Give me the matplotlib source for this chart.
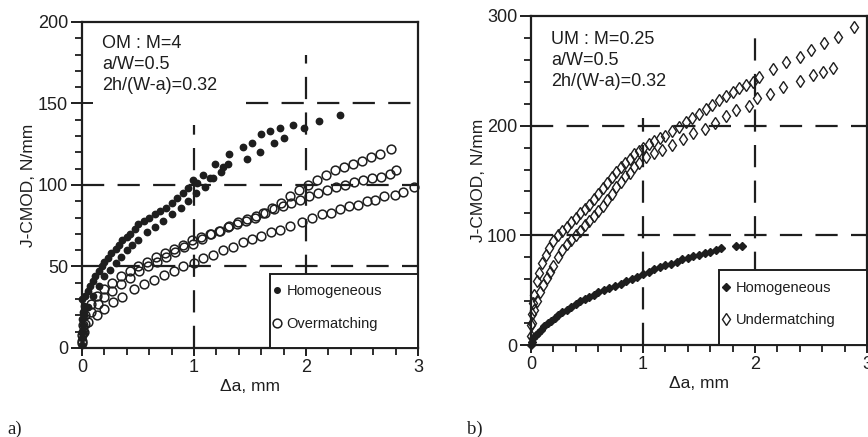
import matplotlib
matplotlib.use("Agg")
import matplotlib.pyplot as plt
import numpy as np
from matplotlib.lines import Line2D
from matplotlib.patches import Rectangle

plt.rcParams["font.family"] = ["Liberation Sans", "DejaVu Sans"]

INK = "#1e1e1e"

# ---- a) overmatching weld, M = 4 ----
hom_a1_x = [0.0, 0.0, 0.01, 0.01, 0.0, 0.01, 0.02, 0.0, 0.03, 0.05,
            0.07, 0.1, 0.12, 0.15, 0.18, 0.2, 0.23, 0.26, 0.3, 0.33,
            0.36, 0.4, 0.43, 0.47, 0.5, 0.55, 0.6, 0.65, 0.7, 0.75,
            0.8, 0.85, 0.9, 0.95, 0.99, 1.03, 1.08, 1.14, 1.19, 1.26,
            1.31, 1.44, 1.52, 1.6, 1.68, 1.77, 1.88, 2.12, 2.3]
hom_a1_y = [2, 6, 10, 14, 18, 22, 26, 30, 32, 35,
            38, 41, 44, 47, 50, 53, 55, 58, 61, 63,
            66, 68, 70, 73, 76, 78, 80, 82, 84, 86,
            89, 92, 95, 98, 103, 101, 106, 104, 113, 111,
            119, 123, 126, 131, 133, 135, 137, 139, 143]
hom_a2_x = [0.02, 0.05, 0.1, 0.15, 0.2, 0.25, 0.3, 0.35, 0.4, 0.45,
            0.5, 0.58, 0.65, 0.72, 0.8, 0.88, 0.95, 1.02, 1.1, 1.17,
            1.24, 1.3, 1.47, 1.59, 1.71, 1.8, 1.98]
hom_a2_y = [20, 25, 32, 38, 44, 48, 52, 56, 60, 63,
            66, 71, 74, 78, 82, 86, 90, 95, 99, 104,
            108, 113, 116, 120, 126, 129, 135]

om1_x = [0.0, 0.01, 0.03, 0.08, 0.13, 0.2, 0.27, 0.35, 0.43, 0.5,
         0.58, 0.66, 0.74, 0.82, 0.9, 0.98, 1.06, 1.14, 1.22, 1.3,
         1.38, 1.46, 1.54, 1.62, 1.7, 1.78, 1.86, 1.94, 2.02, 2.1,
         2.18, 2.26, 2.34, 2.42, 2.5, 2.58, 2.66, 2.76]
om1_y = [8, 14, 20, 27, 32, 36, 40, 44, 47, 50,
         53, 56, 58, 61, 63, 66, 68, 70, 72, 74,
         76, 78, 80, 83, 86, 89, 93, 97, 100, 103,
         106, 109, 111, 113, 115, 117, 119, 122]
om2_x = [0.0, 0.01, 0.03, 0.08, 0.14, 0.2, 0.27, 0.35, 0.43, 0.51,
         0.59, 0.67, 0.75, 0.83, 0.91, 0.99, 1.07, 1.15, 1.23, 1.31,
         1.39, 1.47, 1.55, 1.63, 1.71, 1.79, 1.87, 1.95, 2.03, 2.11,
         2.19, 2.27, 2.35, 2.43, 2.51, 2.59, 2.67, 2.75, 2.8]
om2_y = [4, 10, 15, 22, 27, 31, 35, 39, 43, 47,
         50, 53, 56, 59, 62, 64, 67, 70, 72, 75,
         77, 79, 81, 83, 85, 87, 89, 91, 93, 95,
         97, 99, 100, 102, 103, 104, 105, 107, 109]
om3_x = [0.0, 0.02, 0.05, 0.13, 0.2, 0.28, 0.36, 0.46, 0.55, 0.64,
         0.73, 0.82, 0.9, 1.0, 1.08, 1.17, 1.26, 1.35, 1.44, 1.52,
         1.6, 1.69, 1.77, 1.86, 1.96, 2.05, 2.14, 2.22, 2.3, 2.38,
         2.46, 2.54, 2.62, 2.7, 2.79, 2.87, 2.96]
om3_y = [3, 10, 16, 20, 24, 28, 31, 36, 39, 42,
         45, 47, 50, 52, 55, 57, 60, 62, 65, 67,
         69, 71, 72.5, 75, 77, 80, 82, 83, 85, 87,
         88, 90, 91, 93, 94, 96, 99]

# ---- b) undermatching weld, M = 0.25 ----
hom_b_x = [0.0, 0.01, 0.02, 0.04, 0.06, 0.09, 0.12, 0.15, 0.18, 0.21,
           0.24, 0.28, 0.32, 0.36, 0.4, 0.44, 0.48, 0.52, 0.56, 0.6,
           0.65, 0.7, 0.75, 0.8, 0.85, 0.9, 0.95, 1.0, 1.05, 1.1,
           1.15, 1.2, 1.25, 1.3, 1.35, 1.4, 1.45, 1.5, 1.55, 1.6,
           1.65, 1.7, 1.83, 1.88]
hom_b_y = [0, 3, 6, 9, 11, 14, 17, 20, 22, 25,
           27, 30, 32, 35, 37, 40, 42, 44, 46, 48,
           50, 52, 54, 56, 58, 60, 62, 65, 67, 69,
           71, 73, 74, 76, 78, 79, 81, 82, 84, 85,
           87, 88, 90, 90]

um1_x = [0.0, 0.0, 0.01, 0.02, 0.03, 0.05, 0.07, 0.1, 0.13, 0.16,
         0.2, 0.24, 0.28, 0.32, 0.36, 0.4, 0.44, 0.48, 0.52, 0.56,
         0.6, 0.64, 0.68, 0.72, 0.76, 0.8, 0.84, 0.88, 0.92, 0.96,
         1.0, 1.05, 1.1, 1.15, 1.2, 1.26, 1.32, 1.38, 1.44, 1.5,
         1.56, 1.62, 1.68, 1.74, 1.8, 1.86, 1.92, 1.98, 2.04, 2.16,
         2.28, 2.4, 2.5, 2.62, 2.74, 2.88]
um1_y = [8, 18, 28, 38, 46, 58, 66, 75, 82, 88,
         95, 100, 104, 108, 112, 116, 120, 124, 128, 133,
         138, 143, 148, 153, 158, 162, 166, 170, 174, 177,
         180, 183, 186, 189, 191, 195, 199, 203, 207, 211,
         215, 219, 223, 227, 231, 234, 237, 240, 244, 252,
         258, 263, 269, 275, 281, 290]
um2_x = [0.01, 0.03, 0.05, 0.08, 0.11, 0.14, 0.17, 0.2, 0.24, 0.28,
         0.32, 0.36, 0.4, 0.44, 0.48, 0.52, 0.56, 0.6, 0.64, 0.68,
         0.72, 0.76, 0.8, 0.84, 0.88, 0.92, 0.96, 1.03, 1.1, 1.17,
         1.26, 1.36, 1.45, 1.55, 1.64, 1.74, 1.83, 1.95, 2.02, 2.13,
         2.25, 2.4, 2.52, 2.61, 2.7]
um2_y = [20, 32, 40, 48, 55, 61, 67, 72, 80, 87,
         92, 96, 100, 104, 109, 113, 118, 122, 127, 132,
         138, 144, 149, 154, 157, 162, 166, 171, 175, 178,
         182, 188, 193, 197, 202, 209, 214, 218, 225, 229,
         235, 241, 246, 249, 253]


def dash(ax, xs, ys):
    ax.plot(xs, ys, color=INK, lw=1.6, linestyle=(0, (10, 6)), zorder=1)


def frame(ax, ymax, ystep, yminor):
    ax.set_xlim(0, 3)
    ax.set_ylim(0, ymax)
    ax.set_xticks([0, 1, 2, 3])
    ax.set_xticks(np.arange(0, 3.001, 0.2), minor=True)
    ax.set_yticks(np.arange(0, ymax + 1, ystep))
    ax.set_yticks(np.arange(0, ymax + 1, yminor), minor=True)
    for s in ax.spines.values():
        s.set_linewidth(1.6)
        s.set_color(INK)
    ax.tick_params(which="major", direction="inout", length=12, width=1.4,
                   labelsize=13, colors=INK, pad=2)
    ax.tick_params(axis="y", which="major", length=16)
    ax.tick_params(which="minor", direction="out", length=5, width=1.3, colors=INK)
    ax.set_xlabel("Δa, mm", fontsize=12.5, color=INK, labelpad=2)
    ax.set_ylabel("J-CMOD, N/mm", fontsize=12.5, color=INK, labelpad=1)


def key(ax, handles, labels):
    ax.add_patch(Rectangle((0.56, 0), 0.44, 0.227, transform=ax.transAxes,
                           facecolor="white", edgecolor=INK, lw=1.4, zorder=3))
    leg = ax.legend(handles, labels, loc="upper left", bbox_to_anchor=(0.565, 0.195),
                    frameon=False, fontsize=10.5, handlelength=0.7, handletextpad=0.3,
                    labelspacing=1.25, borderaxespad=0, borderpad=0)
    leg.set_zorder(4)
    for t in leg.get_texts():
        t.set_color(INK)


fig = plt.figure(figsize=(8.68, 4.37), dpi=100)
ax1 = fig.add_axes([0.0945, 0.2037, 0.3871, 0.746])
ax2 = fig.add_axes([0.6118, 0.2105, 0.3870, 0.7529])

# a)
frame(ax1, 200, 50, 10)
dash(ax1, [0, 3], [50, 50])
dash(ax1, [0, 3], [100, 100])
dash(ax1, [1.46, 3], [150, 150])
dash(ax1, [1, 1], [0, 137])
dash(ax1, [2, 2], [0, 180])
dot = dict(ls="none", marker="o", color=INK, ms=4.6, clip_on=False, zorder=2)
ring = dict(ls="none", marker="o", mfc="none", mec=INK, mew=1.1, ms=6.3,
            clip_on=False, zorder=2)
ax1.plot(hom_a1_x, hom_a1_y, **dot)
ax1.plot(hom_a2_x, hom_a2_y, **dot)
for xs, ys in [(om1_x, om1_y), (om2_x, om2_y), (om3_x, om3_y)]:
    ax1.plot(xs, ys, **ring)
ax1.text(0.06, 0.96, "OM : M=4\na/W=0.5\n2h/(W-a)=0.32", transform=ax1.transAxes,
         va="top", ha="left", fontsize=13, color=INK, linespacing=1.3)
key(ax1,
    [Line2D([], [], ls="none", marker="o", color=INK, ms=4),
     Line2D([], [], ls="none", marker="o", mfc="none", mec=INK, mew=1.1, ms=6.3)],
    ["Homogeneous", "Overmatching"])

# b)
frame(ax2, 300, 100, 20)
dash(ax2, [0, 3], [100, 100])
dash(ax2, [0, 3], [200, 200])
dash(ax2, [1, 1], [0, 207])
dash(ax2, [2, 2], [0, 280])
ax2.plot(hom_b_x, hom_b_y, ls="none", marker="D", color=INK, ms=4.4,
         clip_on=False, zorder=2)
open_d = dict(ls="none", marker="d", mfc="none", mec=INK, mew=1.0, ms=6.5,
              clip_on=False, zorder=2)
ax2.plot(um1_x, um1_y, **open_d)
ax2.plot(um2_x, um2_y, **open_d)
ax2.text(0.06, 0.955, "UM : M=0.25\na/W=0.5\n2h/(W-a)=0.32", transform=ax2.transAxes,
         va="top", ha="left", fontsize=13, color=INK, linespacing=1.3)
key(ax2,
    [Line2D([], [], ls="none", marker="D", color=INK, ms=4.4),
     Line2D([], [], ls="none", marker="d", mfc="none", mec=INK, mew=1.0, ms=6.5)],
    ["Homogeneous", "Undermatching"])

fig.text(0.009, 0.008, "a)", family="Liberation Serif", fontsize=13.5, color=INK)
fig.text(0.538, 0.008, "b)", family="Liberation Serif", fontsize=13.5, color=INK)

fig.savefig("out.png", dpi=100, facecolor="white")
